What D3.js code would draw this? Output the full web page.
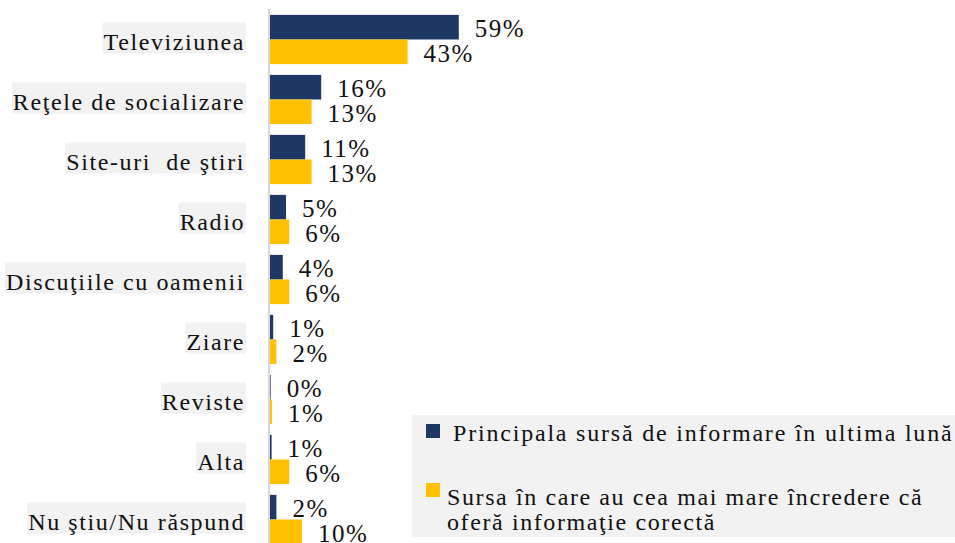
<!DOCTYPE html>
<html>
<head>
<meta charset="utf-8">
<script src="https://cdn.jsdelivr.net/npm/d3@7"></script>
<style>
  body { margin: 0; background: #fff; }
  text { font-family: "Liberation Serif", "Tinos", "Times New Roman", serif; fill: #111; white-space: pre; }
</style>
</head>
<body>
<div id="canvas"></div>
<script>
"use strict"

/* data */
let categories = ["Televiziunea", "Reţele de socializare", "Site-uri  de ştiri", "Radio",
  "Discuţiile cu oamenii", "Ziare", "Reviste", "Alta", "Nu ştiu/Nu răspund"];
let mainSource = [59, 16, 11, 5, 4, 1, 0.2, 0.5, 2];
let trustSource = [43, 13, 13, 6, 6, 2, 0.6, 6, 10];
let seriesNames = ["Principala sursă de informare în ultima lună",
  "Sursa în care au cea mai mare încredere că", "oferă informaţie corectă"];
let seriesColors = ["#203864", "#ffc000"];

let drawing = d3.select("#canvas")
  .append("svg")
  .attr("width", 955)
  .attr("height", 543);

let x = d3.scaleLinear().domain([0, 100]).range([270, 590]);
let y = d3.scaleBand().domain(categories).range([9.5, 549.5]).paddingInner(0.18).paddingOuter(0.09);
let inner = d3.scaleBand().domain([0, 1]).range([0, y.bandwidth()]);

/* category labels with grey background */
let labels = drawing.append("g");
categories.forEach(function (c) {
  let cy = y(c) + y.bandwidth() / 2;
  let g = labels.append("g");
  let bg = g.append("rect").attr("fill", "#f2f2f2");
  let t = g.append("text")
    .attr("x", 245)
    .attr("y", cy + 10)
    .attr("text-anchor", "end")
    .style("font-size", "24px")
    .style("letter-spacing", "1.6px")
    .text(c);
  let b = t.node().getBBox();
  bg.attr("x", b.x - 1)
    .attr("y", cy - 17)
    .attr("width", b.width + 2)
    .attr("height", 31);
});

/* axis line */
drawing.append("line")
  .attr("x1", 269).attr("x2", 269)
  .attr("y1", 9).attr("y2", 543)
  .attr("stroke", "#d6d6d6")
  .attr("stroke-width", 2);

/* bars */
[mainSource, trustSource].forEach(function (values, si) {
  let g = drawing.append("g");
  g.selectAll("rect")
    .data(values)
    .join("rect")
    .attr("x", x(0))
    .attr("y", (d, i) => y(categories[i]) + inner(si))
    .attr("width", d => x(d) - x(0))
    .attr("height", inner.bandwidth())
    .attr("fill", seriesColors[si]);

  g.selectAll("text")
    .data(values)
    .join("text")
    .attr("x", d => x(d) + 16)
    .attr("y", (d, i) => y(categories[i]) + inner(si) + inner.bandwidth() / 2 + 10)
    .style("font-size", "25px")
    .style("letter-spacing", "1.5px")
    .text(d => Math.round(d) + "%");
});

/* legend */
let legend = drawing.append("g");
legend.append("rect")
  .attr("x", 412).attr("y", 415)
  .attr("width", 543).attr("height", 122)
  .attr("fill", "#f2f2f2");

legend.append("rect")
  .attr("x", 426).attr("y", 424)
  .attr("width", 14).attr("height", 14)
  .attr("fill", seriesColors[0]);
legend.append("text")
  .attr("x", 453).attr("y", 441)
  .style("font-size", "24px")
  .style("letter-spacing", "1.8px")
  .text(seriesNames[0]);

legend.append("rect")
  .attr("x", 426).attr("y", 483)
  .attr("width", 14).attr("height", 14)
  .attr("fill", seriesColors[1]);
legend.append("text")
  .attr("x", 447).attr("y", 505)
  .style("font-size", "24px")
  .style("letter-spacing", "1.6px")
  .text(seriesNames[1]);
legend.append("text")
  .attr("x", 447).attr("y", 530)
  .style("font-size", "24px")
  .style("letter-spacing", "1.6px")
  .text(seriesNames[2]);
</script>
</body>
</html>
